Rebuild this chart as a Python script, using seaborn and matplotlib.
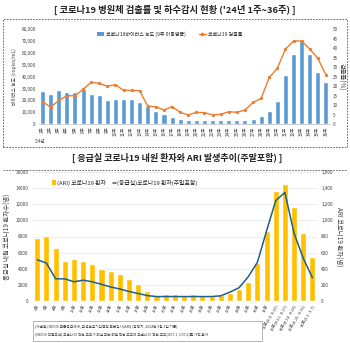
import numpy as np
import pandas as pd
import matplotlib
matplotlib.use("Agg")
import matplotlib.pyplot as plt
import seaborn as sns
from matplotlib.patches import Rectangle, Patch
from matplotlib.lines import Line2D
from matplotlib.ticker import FuncFormatter

# ---------------- data ----------------
weeks_top = [f"{i}주" for i in range(1, 37)]
virus_conc = [28000, 25500, 29000, 27000, 27000, 29500, 25800, 24500, 20000, 21000,
              21500, 21500, 18500, 15000, 11000, 8500, 6500, 4800, 3200, 3200,
              3200, 3200, 3200, 3500, 3700, 4000, 4800, 6700, 11200, 19200,
              41600, 59200, 70400, 59200, 44000, 35200]
detect_rate = [11.8, 9.0, 12.5, 15.0, 15.0, 18.3, 22.0, 21.5, 20.0, 20.8,
               17.8, 17.8, 17.6, 9.4, 9.2, 7.5, 9.3, 6.3, 4.9, 6.3,
               6.1, 4.9, 5.2, 6.6, 6.3, 7.5, 11.5, 13.6, 24.6, 29.4,
               39.5, 43.7, 43.7, 39.5, 34.6, 25.9]

weeks_bot = [f"{i}주" for i in range(6, 32)] + [
    "32주(8.4~8.10)", "33주(8.11~8.17)", "34주(8.18~8.24)",
    "35주(8.25~8.31)", "36주(9.1~9.7)"]
ari_cases = [787, 808, 656, 499, 520, 491, 457, 403, 377, 330,
             267, 216, 127, 76, 85, 85, 70, 85, 65, 65,
             70, 95, 145, 238, 466, 872, 1359, 1451, 1168, 838, 542]
er_cases = [5120, 4700, 2750, 2750, 2380, 2580, 2380, 2070, 1740, 1490,
            1180, 930, 670, 550, 550, 550, 550, 550, 550, 550,
            640, 1100, 1650, 3000, 4800, 8700, 12450, 13460, 8400, 5300, 2880]

# ---------------- style ----------------
sns.set_theme(style="white")
plt.rcParams["font.family"] = ["Noto Sans CJK KR", "DejaVu Sans"]

W, H = 350, 343
fig = plt.figure(figsize=(W / 100, H / 100), dpi=100)

def fx(px):
    return px / W

def fy(py):
    return 1 - py / H

BLUE = "#5B9BD5"
ORANGE = "#ED7D31"
GOLD = "#FFC000"
NAVY = "#1F5F8A"
TXT = "#404040"

# ---------------- titles / frames ----------------
fig.text(0.5, fy(10), "[ 코로나19 병원체 검출률 및 하수감시 현황 ('24년 1주~36주) ]",
         ha="center", va="center", fontsize=6.7, fontweight="bold", color="#222222")
fig.text(fx(177), fy(158), "[ 응급실 코로나19 내원 환자와 ARI 발생추이(주말포함) ]",
         ha="center", va="center", fontsize=6.5, fontweight="bold", color="#222222")
fig.patches.append(Rectangle((fx(3), fy(147)), fx(344), (147 - 19) / H,
                             transform=fig.transFigure, fill=False,
                             edgecolor="#555555", linestyle=(0, (2, 1.5)), linewidth=0.6))
fig.lines.append(Line2D([fx(3), fx(347)], [fy(170), fy(170)], transform=fig.transFigure,
                        color="#555555", linestyle=(0, (2, 1.5)), linewidth=0.6))

# ---------------- top chart ----------------
ax1 = fig.add_axes([fx(38.5), fy(124.3), fx(330 - 38.5), (124.3 - 29) / H])
ax2 = ax1.twinx()
sns.barplot(x=weeks_top, y=virus_conc, ax=ax1, color=BLUE, saturation=1, width=0.62)
sns.pointplot(x=weeks_top, y=detect_rate, ax=ax2, color=ORANGE, markers="o",
              markersize=1.6, linewidth=1.0)
ax1.set_xlim(-0.5, len(weeks_top) - 0.5)
ax1.set_ylim(0, 80000)
ax2.set_ylim(0, 50)
ax1.set_yticks(np.arange(0, 80001, 10000))
ax2.set_yticks(np.arange(0, 51, 5))
ax1.yaxis.set_major_formatter(FuncFormatter(lambda v, p: f"{int(v):,}"))
for a in (ax1, ax2):
    for s in a.spines.values():
        s.set_visible(False)
    a.grid(False)
ax1.spines["bottom"].set_visible(True)
ax1.spines["bottom"].set_color("#bbbbbb")
ax1.spines["bottom"].set_linewidth(0.5)
ax1.tick_params(axis="y", labelsize=3.3, colors=TXT, length=0, pad=2)
ax2.tick_params(axis="y", labelsize=3.3, colors=TXT, length=0, pad=2)
ax1.tick_params(axis="x", labelsize=3.3, colors=TXT, length=0, pad=1.5, rotation=90)
ax2.tick_params(axis="x", length=0)
ax1.set_xlabel("")
ax2.set_xlabel("")
ax1.set_ylabel("바이러스 농도 (copies/mL)", fontsize=3.5, color=TXT, labelpad=3)
ax2.set_ylabel("검출률(%)", fontsize=4.5, color=TXT, rotation=270, labelpad=5)
fig.text(fx(40), fy(141.5), "'24년", fontsize=3.3, color=TXT, ha="center", va="center")
h_top = [Patch(facecolor=BLUE, edgecolor="none"),
         Line2D([0], [0], color=ORANGE, marker="o", markersize=1.6, linewidth=1.0)]
ax2.legend(h_top, ["코로나19바이러스 농도 (9주 이동평균)", "코로나19 검출률"],
           loc="upper center", bbox_to_anchor=(0.45, 1.02), ncol=2, frameon=False,
           fontsize=3.6, handlelength=1.4, handleheight=0.7, columnspacing=2.5,
           handletextpad=0.4)

# ---------------- bottom chart ----------------
axl = fig.add_axes([fx(32.7), fy(301), fx(317 - 32.7), (301 - 172) / H])
axr = axl.twinx()
sns.barplot(x=weeks_bot, y=ari_cases, ax=axr, color=GOLD, saturation=1, width=0.66)
sns.lineplot(x=weeks_bot, y=er_cases, ax=axl, color=NAVY, linewidth=1.1, sort=False)
axl.set_zorder(axr.get_zorder() + 1)
axl.patch.set_visible(False)
axl.set_xlim(-0.5, len(weeks_bot) - 0.5)
axl.set_ylim(0, 16000)
axr.set_ylim(0, 1600)
axl.set_yticks(np.arange(0, 16001, 2000))
axr.set_yticks(np.arange(0, 1601, 200))
axr.yaxis.set_major_formatter(FuncFormatter(lambda v, p: f"{int(v):,}"))
axr.grid(axis="y", color="#e6e6e6", linewidth=0.5)
axr.set_axisbelow(True)
axl.grid(False)
for a in (axl, axr):
    for s in a.spines.values():
        s.set_visible(False)
axl.tick_params(axis="y", labelsize=3.3, colors=TXT, length=0, pad=3)
axr.tick_params(axis="y", labelsize=3.3, colors=TXT, length=0, pad=3)
axl.tick_params(axis="x", labelsize=3.0, colors=TXT, length=0, pad=2)
for lab in axl.get_xticklabels():
    lab.set_rotation(60)
    lab.set_ha("right")
    lab.set_rotation_mode("anchor")
axr.tick_params(axis="x", length=0)
axl.set_xlabel("")
axr.set_xlabel("")
axl.set_ylabel("응급실 내원 코로나19 환자수(명)", fontsize=4.6, color=TXT, labelpad=3)
axr.set_ylabel("ARI 코로나19 환자(명)", fontsize=4.6, color=TXT, rotation=270, labelpad=7)
h_bot = [Patch(facecolor=GOLD, edgecolor="none"),
         Line2D([0], [0], color=NAVY, linewidth=1.1)]
axl.legend(h_bot, ["(ARI) 코로나19 환자", "(응급실)코로나19 환자(주말포함)"],
           loc="upper left", bbox_to_anchor=(0.05, 0.98), ncol=2, frameon=False,
           fontsize=4.2, handlelength=0.6, handleheight=0.9, columnspacing=1.2,
           handletextpad=0.2)

# ---------------- footnote box ----------------
fig.patches.append(Rectangle((fx(33), fy(341)), fx(262 - 33), (341 - 321) / H,
                             transform=fig.transFigure, fill=False,
                             edgecolor="#999999", linewidth=0.5))
fig.text(fx(35), fy(326.5),
         "(자료원) NEDIS 표준응급체계, 급성호흡기감염병 표본감시(ARI) (잠정치, 2024년 9월 1일 기준)",
         fontsize=2.6, color=TXT, ha="left", va="center")
fig.text(fx(35), fy(335),
         "(NEDIS 선별조건) 코로나19 진단 코드가 퇴실 또는 퇴원 진단 코드에 코로나19 진단 코드(U07.1, U07.2)를 가진 환자",
         fontsize=2.6, color=TXT, ha="left", va="center")

fig.savefig("out.png", dpi=100, facecolor="white")
